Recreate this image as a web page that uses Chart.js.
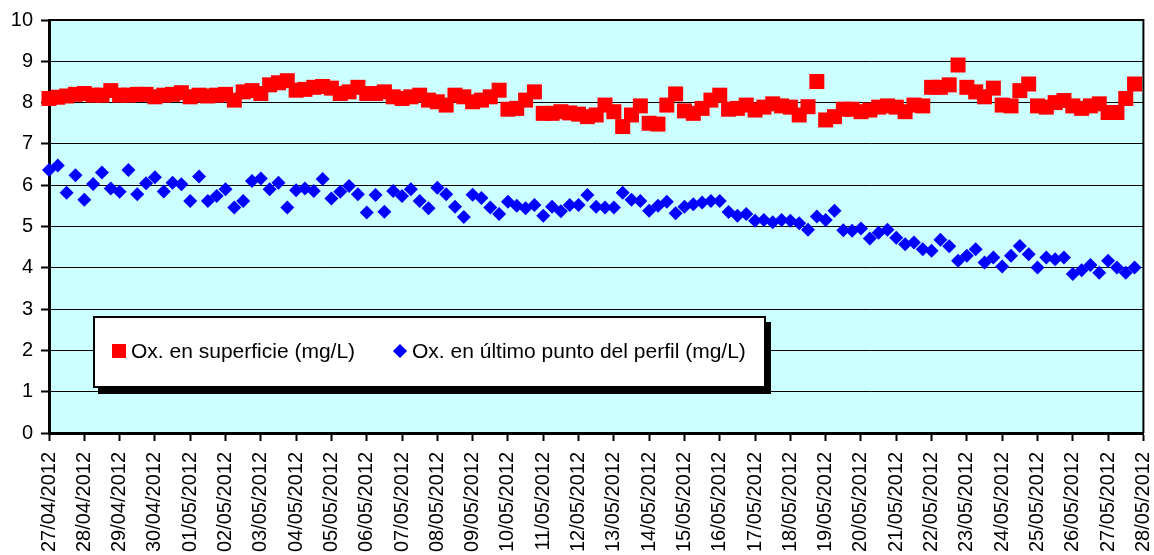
<!DOCTYPE html>
<html>
<head>
<meta charset="utf-8">
<script src="https://cdn.jsdelivr.net/npm/chart.js@4.4.1/dist/chart.umd.min.js"></script>
<style>
  body { margin: 0; background: #fff; }
  #wrap { position: relative; width: 1154px; height: 555px; overflow: hidden; }
  .legend {
    position: absolute; left: 93px; top: 316px; width: 669px; height: 68px;
    border: 2px solid #000; background: #fff; box-shadow: 5px 6px 0 #000;
    font: 21px 'Liberation Sans', Arial, sans-serif; color: #000;
  }
  .legend span { position: absolute; white-space: nowrap; }
  .sq { left: 17px; top: 26px; width: 14px; height: 14px; background: #ff0000; }
  .dm { left: 300px; top: 28px; width: 10px; height: 10px; background: #0000ff; transform: rotate(45deg); }
  .t1 { left: 36px; top: 21px; line-height: 24px; }
  .t2 { left: 317px; top: 21px; line-height: 24px; }
</style>
</head>
<body>
<div id="wrap">
  <canvas id="chart" width="1154" height="555"></canvas>
  <div class="legend">
    <span class="sq"></span><span class="t1">Ox. en superficie (mg/L)</span>
    <span class="dm"></span><span class="t2">Ox. en último punto del perfil (mg/L)</span>
  </div>
</div>
<script>
// dates on the x axis, one tick per day
const dateLabels = ['27/04/2012', '28/04/2012', '29/04/2012', '30/04/2012', '01/05/2012', '02/05/2012',
  '03/05/2012', '04/05/2012', '05/05/2012', '06/05/2012', '07/05/2012', '08/05/2012', '09/05/2012',
  '10/05/2012', '11/05/2012', '12/05/2012', '13/05/2012', '14/05/2012', '15/05/2012', '16/05/2012',
  '17/05/2012', '18/05/2012', '19/05/2012', '20/05/2012', '21/05/2012', '22/05/2012', '23/05/2012',
  '24/05/2012', '25/05/2012', '26/05/2012', '27/05/2012', '28/05/2012'];

// one reading every 6 hours
const hoursPerReading = 6;

// surface oxygen (mg/L)
const oxSuperficie = [
  8.10, 8.13, 8.16, 8.20, 8.22, 8.18, 8.18, 8.29, 8.18, 8.18, 8.20, 8.20, 8.14, 8.18, 8.20, 8.24,
  8.14, 8.18, 8.16, 8.18, 8.20, 8.06, 8.26, 8.29, 8.22, 8.43, 8.48, 8.53, 8.30,
  8.32, 8.37, 8.39, 8.35, 8.22, 8.26, 8.37, 8.22, 8.22, 8.26, 8.14, 8.10, 8.14, 8.18, 8.06, 8.02,
  7.94, 8.18, 8.14, 8.02, 8.06, 8.14, 8.30, 7.84, 7.86, 8.06, 8.26, 7.74, 7.74, 7.78, 7.75, 7.72,
  7.66, 7.70, 7.94, 7.78, 7.42, 7.70, 7.92, 7.50, 7.48, 7.94, 8.21, 7.80, 7.74, 7.86, 8.06, 8.18,
  7.84, 7.86, 7.94, 7.82, 7.89, 7.97, 7.92, 7.89, 7.70, 7.90, 8.51, 7.58, 7.66, 7.84, 7.84,
  7.78, 7.82, 7.89, 7.92, 7.89, 7.78, 7.94, 7.92, 8.37, 8.37, 8.43, 8.91, 8.37, 8.26, 8.14, 8.35,
  7.94, 7.92, 8.29, 8.45, 7.92, 7.89, 8.00, 8.05, 7.92, 7.86, 7.92, 7.97, 7.76, 7.76, 8.10, 8.45
];

// oxygen at the last point of the profile (mg/L)
const oxUltimoPunto = [
  6.37, 6.48, 5.82, 6.24, 5.65, 6.03, 6.31, 5.92, 5.84, 6.37, 5.78, 6.05, 6.19, 5.85, 6.06, 6.02,
  5.62, 6.21, 5.62, 5.74, 5.90, 5.46, 5.62, 6.10, 6.16, 5.90, 6.06, 5.46, 5.88,
  5.92, 5.86, 6.15, 5.68, 5.84, 5.98, 5.78, 5.34, 5.76, 5.36, 5.86, 5.74, 5.90, 5.62, 5.44, 5.94,
  5.78, 5.48, 5.23, 5.77, 5.69, 5.46, 5.30, 5.60, 5.50, 5.44, 5.52, 5.26, 5.48, 5.37, 5.52, 5.52,
  5.76, 5.48, 5.46, 5.46, 5.82, 5.65, 5.62, 5.38, 5.50, 5.60, 5.32, 5.48, 5.54, 5.58, 5.62, 5.62,
  5.35, 5.26, 5.30, 5.14, 5.16, 5.10, 5.16, 5.14, 5.08, 4.92, 5.24, 5.16, 5.38, 4.91, 4.90,
  4.95, 4.71, 4.85, 4.92, 4.73, 4.57, 4.61, 4.45, 4.41, 4.68, 4.52, 4.17, 4.29, 4.45, 4.13, 4.25,
  4.03, 4.29, 4.53, 4.33, 4.01, 4.25, 4.21, 4.25, 3.85, 3.94, 4.07, 3.88, 4.17, 4.01, 3.88, 4.01
];

const yTicks = [0, 1, 2, 3, 4, 5, 6, 7, 8, 9, 10];

const toPoints = (values) => values.map((v, i) => ({ x: i * hoursPerReading / 24, y: v }));

const FONT = "'Liberation Sans', Arial, sans-serif";

// light cyan plot area plus the top/right frame
const plotArea = {
  id: 'plotArea',
  beforeDraw(chart) {
    const { ctx, chartArea: a } = chart;
    ctx.save();
    ctx.fillStyle = '#ccffff';
    ctx.fillRect(a.left, a.top, a.right - a.left, a.bottom - a.top);
    ctx.restore();
  },
  beforeDatasetsDraw(chart) {
    const { ctx, chartArea: a } = chart;
    ctx.save();
    ctx.strokeStyle = '#000';
    ctx.lineWidth = 2;
    ctx.beginPath();
    ctx.moveTo(a.left, a.top);
    ctx.lineTo(a.right, a.top);
    ctx.lineTo(a.right, a.bottom);
    ctx.stroke();
    ctx.restore();
  }
};

new Chart(document.getElementById('chart'), {
  type: 'scatter',
  data: {
    datasets: [
      {
        label: 'Ox. en superficie (mg/L)',
        data: toPoints(oxSuperficie),
        pointStyle: 'rect',
        pointRadius: 10.6,
        borderWidth: 0,
        backgroundColor: '#ff0000',
        borderColor: '#ff0000',
        clip: false
      },
      {
        label: 'Ox. en último punto del perfil (mg/L)',
        data: toPoints(oxUltimoPunto),
        pointStyle: 'rectRot',
        pointRadius: 7,
        borderWidth: 0,
        backgroundColor: '#0000ff',
        borderColor: '#0000ff',
        clip: false
      }
    ]
  },
  options: {
    responsive: false,
    animation: false,
    layout: { padding: { top: 20, right: 9, left: 0, bottom: 0 } },
    plugins: { legend: { display: false }, tooltip: { enabled: false } },
    scales: {
      x: {
        type: 'linear',
        min: 0,
        max: dateLabels.length - 1,
        afterFit: (s) => { s.height = 122; s.paddingLeft = 0; s.paddingRight = 0; },
        afterBuildTicks: (s) => { s.ticks = dateLabels.map((_, i) => ({ value: i })); },
        ticks: {
          autoSkip: false,
          minRotation: 90,
          maxRotation: 90,
          padding: 11,
          color: '#000',
          font: { family: FONT, size: 20 },
          callback: (v) => dateLabels[v] ?? ''
        },
        grid: { drawOnChartArea: false, drawTicks: true, tickLength: 8, tickColor: '#000', tickWidth: 2 },
        border: { display: true, color: '#000', width: 3 }
      },
      y: {
        min: 0,
        max: 10,
        afterFit: (s) => { s.width = 49; s.paddingTop = 0; s.paddingBottom = 0; },
        afterBuildTicks: (s) => { s.ticks = yTicks.map((v) => ({ value: v })); },
        ticks: {
          padding: 8,
          color: '#000',
          font: { family: FONT, size: 20 }
        },
        grid: { color: '#000', lineWidth: 1, tickLength: 8, tickColor: '#000', tickWidth: 2 },
        border: { display: true, color: '#000', width: 3 }
      }
    }
  },
  plugins: [plotArea]
});
</script>
</body>
</html>
